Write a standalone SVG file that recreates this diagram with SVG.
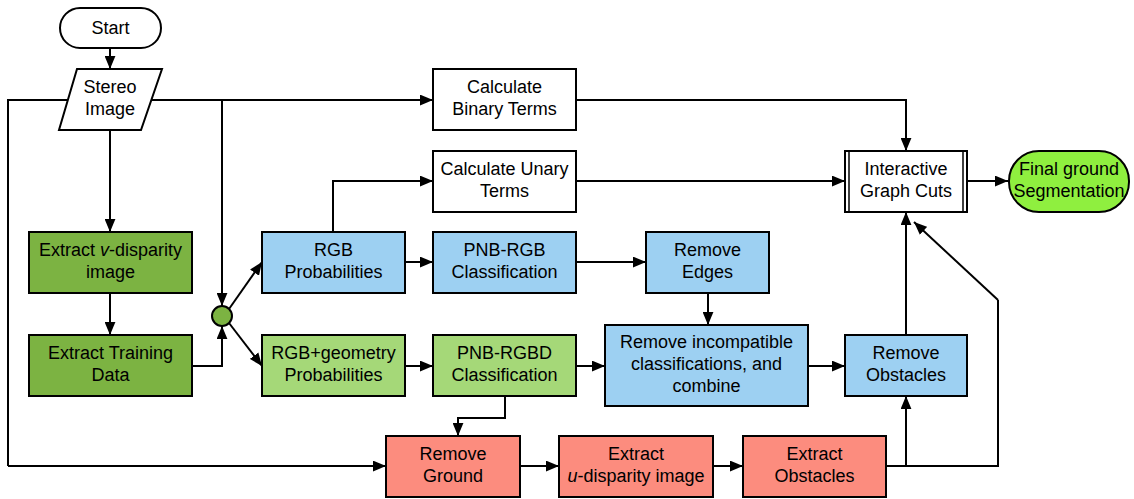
<svg xmlns="http://www.w3.org/2000/svg" width="1134" height="499" viewBox="0 0 1134 499">
<defs>
<marker id="ah" viewBox="0 0 12 10" refX="12" refY="5" markerWidth="13" markerHeight="11" markerUnits="userSpaceOnUse" orient="auto">
<path d="M0,0 L12,5 L0,10 Z" fill="#000"/>
</marker>
</defs>
<style>
.n{stroke:#000;stroke-width:2}
.w{fill:#fff}
.dg{fill:#7cb342}
.lg{fill:#a5d878}
.bl{fill:#9dd0f2}
.rd{fill:#fc8c7e}
.fg{fill:#8fef3f}
text{font-family:"Liberation Sans",Arial,sans-serif;font-size:18px;fill:#000;text-anchor:middle}
.c line,.c path,.c polyline{stroke:#000;stroke-width:2;fill:none}
.a{marker-end:url(#ah)}
</style>
<g class="c">
<line class="a" x1="110" y1="48" x2="110" y2="69"/>
<polyline points="68,100 8,100 8,466"/>
<line class="a" x1="8" y1="466" x2="386" y2="466"/>
<line class="a" x1="152" y1="100" x2="433" y2="100"/>
<line class="a" x1="222" y1="100" x2="222" y2="306"/>
<line class="a" x1="110" y1="130" x2="110" y2="232"/>
<line class="a" x1="110" y1="293" x2="110" y2="335"/>
<polyline class="a" points="192,366 222,366 222,326"/>
<line class="a" x1="229" y1="309" x2="262" y2="262"/>
<line class="a" x1="229" y1="323" x2="262" y2="366"/>
<polyline class="a" points="576,100 906,100 906,151"/>
<line class="a" x1="576" y1="181" x2="845" y2="181"/>
<line class="a" x1="967" y1="181" x2="1008" y2="181"/>
<polyline class="a" points="333,232 333,181 433,181"/>
<line class="a" x1="405" y1="262" x2="433" y2="262"/>
<line class="a" x1="576" y1="262" x2="646" y2="262"/>
<line class="a" x1="405" y1="366" x2="433" y2="366"/>
<line class="a" x1="576" y1="366" x2="605" y2="366"/>
<line class="a" x1="708" y1="293" x2="708" y2="325"/>
<line class="a" x1="808" y1="366" x2="845" y2="366"/>
<polyline class="a" points="505,396 505,418 458,418 458,436"/>
<line class="a" x1="520" y1="466" x2="559" y2="466"/>
<line class="a" x1="713" y1="466" x2="743" y2="466"/>
<polyline points="886,466 998,466 998,300"/>
<line class="a" x1="998" y1="300" x2="914" y2="222"/>
<line class="a" x1="906" y1="466" x2="906" y2="396"/>
<line class="a" x1="906" y1="335" x2="906" y2="212"/>
</g>
<g id="start"><rect class="n w" x="60" y="8" width="101" height="40" rx="20"/><text x="110.5" y="34">Start</text></g>
<g id="stereo"><polygon class="n w" points="77,69 162,69 141,130 59,130"/><text x="110" y="93">Stereo</text><text x="110" y="115">Image</text></g>
<g id="binary"><rect class="n w" x="433" y="69" width="143" height="61"/><text x="504.5" y="93">Calculate</text><text x="504.5" y="115">Binary Terms</text></g>
<g id="unary"><rect class="n w" x="433" y="151" width="143" height="61"/><text x="504.5" y="175">Calculate Unary</text><text x="504.5" y="197">Terms</text></g>
<g id="igc"><rect class="n w" x="845" y="151" width="122" height="61"/><line x1="849" y1="151" x2="849" y2="212" stroke="#000" stroke-width="1.5"/><line x1="963" y1="151" x2="963" y2="212" stroke="#000" stroke-width="1.5"/><text x="906" y="175">Interactive</text><text x="906" y="197">Graph Cuts</text></g>
<g id="final"><rect class="n fg" x="1009" y="151" width="120" height="61" rx="30"/><text x="1069" y="175">Final ground</text><text x="1069" y="197">Segmentation</text></g>
<g id="vdisp"><rect class="n dg" x="29" y="232" width="163" height="61"/><text x="110.5" y="256">Extract <tspan font-style="italic">v</tspan>-disparity</text><text x="110.5" y="278">image</text></g>
<g id="train"><rect class="n dg" x="29" y="335" width="163" height="61"/><text x="110.5" y="359">Extract Training</text><text x="110.5" y="381">Data</text></g>
<g id="junction"><circle class="n dg" cx="222" cy="316" r="10"/></g>
<g id="rgbprob"><rect class="n bl" x="262" y="232" width="143" height="61"/><text x="333.5" y="256">RGB</text><text x="333.5" y="278">Probabilities</text></g>
<g id="pnbrgb"><rect class="n bl" x="433" y="232" width="143" height="61"/><text x="504.5" y="256">PNB-RGB</text><text x="504.5" y="278">Classification</text></g>
<g id="edges"><rect class="n bl" x="646" y="232" width="123" height="61"/><text x="707.5" y="256">Remove</text><text x="707.5" y="278">Edges</text></g>
<g id="rgbgeo"><rect class="n lg" x="262" y="335" width="143" height="61"/><text x="333.5" y="359">RGB+geometry</text><text x="333.5" y="381">Probabilities</text></g>
<g id="pnbrgbd"><rect class="n lg" x="433" y="335" width="143" height="61"/><text x="504.5" y="359">PNB-RGBD</text><text x="504.5" y="381">Classification</text></g>
<g id="combine"><rect class="n bl" x="605" y="325" width="203" height="81"/><text x="706.5" y="348">Remove incompatible</text><text x="706.5" y="370">classifications, and</text><text x="706.5" y="392">combine</text></g>
<g id="remobs"><rect class="n bl" x="845" y="335" width="122" height="61"/><text x="906" y="359">Remove</text><text x="906" y="381">Obstacles</text></g>
<g id="remground"><rect class="n rd" x="386" y="436" width="134" height="61"/><text x="453" y="460">Remove</text><text x="453" y="482">Ground</text></g>
<g id="udisp"><rect class="n rd" x="559" y="436" width="154" height="61"/><text x="636" y="460">Extract</text><text x="636" y="482"><tspan font-style="italic">u</tspan>-disparity image</text></g>
<g id="extobs"><rect class="n rd" x="743" y="436" width="143" height="61"/><text x="814.5" y="460">Extract</text><text x="814.5" y="482">Obstacles</text></g>
</svg>
